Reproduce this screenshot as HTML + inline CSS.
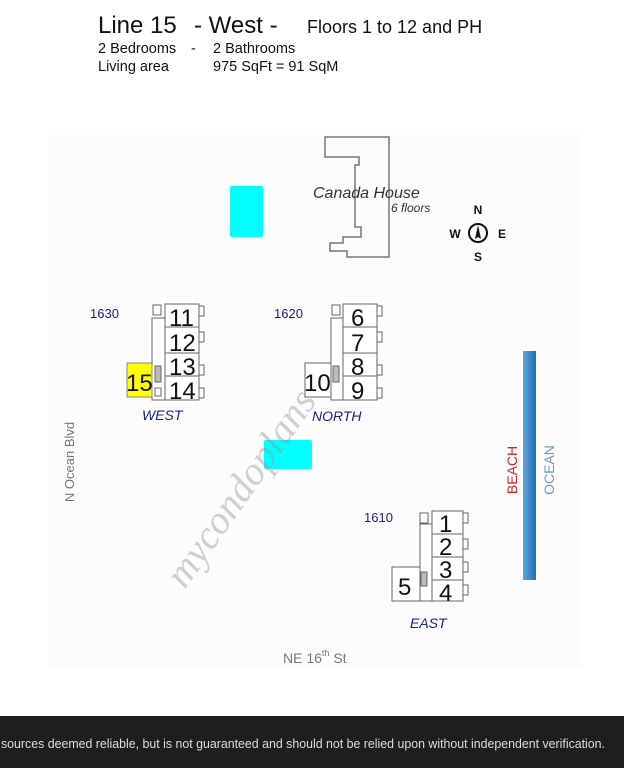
<!DOCTYPE html>
<html><head><meta charset="utf-8"><style>
html,body{margin:0;padding:0;background:#fff;}
svg{display:block;font-family:"Liberation Sans",sans-serif;}
</style></head><body>
<svg width="624" height="768" viewBox="0 0 624 768" xmlns="http://www.w3.org/2000/svg">
<rect x="0" y="0" width="624" height="768" fill="#fff"/>
<rect x="48" y="135" width="534" height="532" fill="#fcfcfc"/>
<!-- header -->
<text x="98" y="33" font-size="24" fill="#111">Line 15</text>
<text x="194" y="33" font-size="24" fill="#111">- West  -</text>
<text x="307" y="33" font-size="18" fill="#111">Floors 1 to 12 and PH</text>
<text x="98" y="53" font-size="14.5" fill="#111">2  Bedrooms</text>
<text x="191" y="53" font-size="14.5" fill="#111">-</text>
<text x="213" y="53" font-size="14.5" fill="#111">2  Bathrooms</text>
<text x="98" y="71" font-size="14.5" fill="#111">Living area</text>
<text x="213" y="71" font-size="14.5" fill="#111">975  SqFt  =  91  SqM</text>
<!-- pools -->
<rect x="230" y="186" width="33" height="51" rx="2" fill="#00ffff"/>
<rect x="264" y="440" width="48" height="29" rx="2" fill="#00ffff"/>
<!-- Canada House -->
<polygon points="325,137 389,137 389,257 347,257 347,251 330,251 330,243 343,243 343,237 361,237 361,227 355,227 355,165 359,165 359,157 325,157" fill="none" stroke="#777" stroke-width="1.5"/>
<text x="313" y="198" font-size="16" font-style="italic" fill="#333">Canada House</text>
<text x="391" y="212" font-size="12" font-style="italic" fill="#333">6 floors</text>
<!-- compass -->
<circle cx="478" cy="233" r="9" fill="none" stroke="#111" stroke-width="2"/>
<polygon points="478,225 481,239 478,237 475,239" fill="#111"/>
<g font-size="12" font-weight="bold" fill="#111" text-anchor="middle">
<text x="478" y="214">N</text><text x="478" y="261">S</text><text x="455" y="238">W</text><text x="502" y="238">E</text></g>
<!-- WEST building -->
<g fill="#fff" stroke="#666" stroke-width="1">
<rect x="152" y="318" width="13" height="82"/>
<rect x="153" y="305" width="8" height="10"/>
<rect x="165" y="304" width="34" height="23"/><rect x="199" y="306" width="5" height="10"/>
<rect x="165" y="327" width="34" height="26"/><rect x="199" y="332" width="5" height="10"/>
<rect x="165" y="353" width="34" height="23"/><rect x="199" y="365" width="5" height="10"/>
<rect x="165" y="376" width="34" height="24"/><rect x="199" y="388" width="5" height="10"/>
<rect x="155" y="366" width="6" height="16" fill="#bbb"/>
<rect x="155" y="388" width="6" height="8"/>
</g>
<rect x="127" y="363" width="25" height="34" fill="#ffff00" stroke="#888" stroke-width="1"/>
<g font-size="24" fill="#111">
<text x="169" y="326">11</text><text x="169" y="351">12</text><text x="169" y="375">13</text><text x="169" y="399">14</text>
<text x="126" y="391">15</text></g>
<text x="90" y="318" font-size="13" fill="#1a237e">1630</text>
<text x="142" y="420" font-size="14" font-style="italic" fill="#1a237e">WEST</text>
<!-- NORTH building -->
<g fill="#fff" stroke="#666" stroke-width="1">
<rect x="331" y="318" width="12" height="82"/>
<rect x="332" y="305" width="8" height="10"/>
<rect x="343" y="304" width="34" height="23"/><rect x="377" y="306" width="5" height="10"/>
<rect x="343" y="327" width="34" height="26"/><rect x="377" y="332" width="5" height="10"/>
<rect x="343" y="353" width="34" height="23"/><rect x="377" y="365" width="5" height="10"/>
<rect x="343" y="376" width="34" height="24"/><rect x="377" y="388" width="5" height="10"/>
<rect x="305" y="363" width="26" height="34"/>
<rect x="333" y="366" width="6" height="16" fill="#bbb"/>
</g>
<g font-size="24" fill="#111">
<text x="351" y="326">6</text><text x="351" y="351">7</text><text x="351" y="375">8</text><text x="351" y="399">9</text>
<text x="304" y="391">10</text></g>
<text x="274" y="318" font-size="13" fill="#1a237e">1620</text>
<text x="312" y="421" font-size="14" font-style="italic" fill="#1a237e">NORTH</text>
<!-- EAST building -->
<g fill="#fff" stroke="#666" stroke-width="1">
<rect x="420" y="524" width="12" height="77"/>
<rect x="420" y="513" width="8" height="10"/>
<rect x="432" y="511" width="31" height="23"/><rect x="463" y="513" width="5" height="10"/>
<rect x="432" y="534" width="31" height="23"/><rect x="463" y="539" width="5" height="10"/>
<rect x="432" y="557" width="31" height="23"/><rect x="463" y="562" width="5" height="10"/>
<rect x="432" y="580" width="31" height="21"/><rect x="463" y="585" width="5" height="10"/>
<rect x="392" y="567" width="28" height="34"/>
<rect x="421" y="572" width="6" height="14" fill="#bbb"/>
</g>
<g font-size="24" fill="#111">
<text x="439" y="532">1</text><text x="439" y="555">2</text><text x="439" y="578">3</text><text x="439" y="601">4</text>
<text x="398" y="595">5</text></g>
<text x="364" y="522" font-size="13" fill="#1a237e">1610</text>
<text x="410" y="628" font-size="14" font-style="italic" fill="#1a237e">EAST</text>
<!-- beach -->
<defs><linearGradient id="bg" x1="0" x2="1"><stop offset="0" stop-color="#5ea6da"/><stop offset="1" stop-color="#1f6fb5"/></linearGradient></defs>
<rect x="523" y="351" width="13" height="229" fill="url(#bg)"/>
<text transform="translate(517,470) rotate(-90)" text-anchor="middle" font-size="14" fill="#c62828">BEACH</text>
<text transform="translate(554,470) rotate(-90)" text-anchor="middle" font-size="14" fill="#6a9ec0">OCEAN</text>
<!-- streets -->
<text transform="translate(74,462) rotate(-90)" text-anchor="middle" font-size="13" fill="#777">N  Ocean Blvd</text>
<text x="283" y="663" font-size="14" fill="#777">NE 16<tspan font-size="9" dy="-7">th</tspan><tspan dy="7"> St</tspan></text>
<!-- watermark -->
<text transform="translate(185,590) rotate(-55)" font-size="40" font-style="italic" font-family="Liberation Serif,serif" fill="#999" opacity="0.45">mycondoplans</text>
<!-- footer -->
<rect x="0" y="716" width="624" height="52" fill="#1e1e1e"/>
<text x="1" y="748" font-size="13" fill="#ddd" textLength="604" lengthAdjust="spacingAndGlyphs">sources deemed reliable, but is not guaranteed and should not be relied upon without independent verification.</text>
</svg>
</body></html>
